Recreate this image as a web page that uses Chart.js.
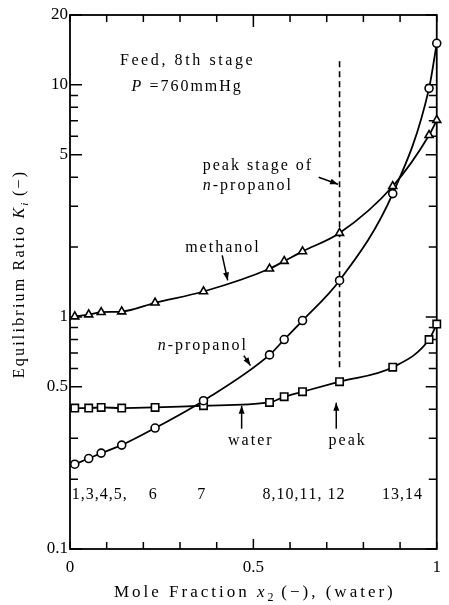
<!DOCTYPE html>
<html><head><meta charset="utf-8">
<script src="https://cdn.jsdelivr.net/npm/chart.js@4.4.0/dist/chart.umd.min.js"></script>
<style>html,body{margin:0;padding:0;background:#fff;}#wrap{width:449px;height:605px;}</style>
</head><body><div id="wrap"><canvas id="c" width="449" height="605"></canvas></div>
<script>
// ---- data ----
const moleFraction = [0.013, 0.051, 0.085, 0.141, 0.232, 0.364, 0.544, 0.584, 0.634, 0.735, 0.880, 0.979, 1.0];
const methanolK    = [1.004, 1.024, 1.048, 1.055, 1.151, 1.287, 1.613, 1.740, 1.916, 2.298, 3.656, 6.07, 7.05];
const propanolK    = [0.232, 0.2454, 0.2589, 0.2804, 0.332, 0.4356, 0.686, 0.799, 0.965, 1.436, 3.40, 9.66, 15.1];
const waterK       = [0.405, 0.405, 0.4074, 0.405, 0.4074, 0.4143, 0.428, 0.453, 0.476, 0.526, 0.607, 0.799, 0.932];
const peakX = 0.735;
const peakK = [0.607, 12.8];
const yTickValues = [0.1,0.2,0.3,0.4,0.5,0.6,0.7,0.8,0.9,1,2,3,4,5,6,7,8,9,10,20];
const yTickLabels = {0.1:'0.1',0.5:'0.5',1:'1',5:'5',10:'10',20:'20'};
const xTickValues = [0,0.1,0.2,0.3,0.4,0.5,0.6,0.7,0.8,0.9,1];
const xTickLabels = {0:'0',0.5:'0.5',1:'1'};
const stageTexts = ['1,3,4,5,', '6', '7', '8,10,11, 12', '13,14'];
const stageX = [0.005, 0.215, 0.347, 0.525, 0.851];
const stageK = 0.171;
const noteTexts = ['Feed, 8th stage', '*P* =760mmHg', 'peak stage of', '*n*-propanol', 'methanol', '*n*-propanol', 'water', 'peak'];
const noteX = [0.136, 0.168, 0.362, 0.362, 0.314, 0.239, 0.431, 0.705];
const noteK = [12.7, 9.78, 4.46, 3.66, 1.99, 0.752, 0.293, 0.293];
const arrowFromX = [0.678, 0.415, 0.474, 0.468, 0.726];
const arrowFromK = [4.0, 1.841, 0.681, 0.33, 0.33];
const arrowToX   = [0.731, 0.430, 0.492, 0.468, 0.726];
const arrowToK   = [3.73, 1.436, 0.617, 0.414, 0.427];
const xTitle = 'Mole Fraction *x*~2~ (−), (water)';
const yTitle = 'Equilibrium Ratio *K*~*i*~ (−)';

// ---- helpers ----
const SERIF = '"Liberation Serif","DejaVu Serif",serif';
const FS = 16;
function parseRich(s){
  const segs=[]; let it=false, sub=false, cur='';
  for(const ch of s){
    if(ch==='*'||ch==='~'){ if(cur){segs.push({t:cur,it,sub});cur='';} if(ch==='*')it=!it; else sub=!sub; }
    else cur+=ch;
  }
  if(cur)segs.push({t:cur,it,sub});
  return segs;
}
function segFont(sg,size){ return (sg.it?'italic ':'')+(sg.sub?Math.round(size*0.7):size)+'px '+SERIF; }
function richWidth(ctx,s,size,sp){
  let w=0; for(const sg of parseRich(s)){ ctx.font=segFont(sg,size); for(const ch of sg.t){ w+=ctx.measureText(ch).width+(sg.sub?0.5:sp); } }
  return w-sp;
}
function drawRich(ctx,s,x,y,size,sp){
  let cx=x;
  for(const sg of parseRich(s)){
    ctx.font=segFont(sg,size);
    const dy = sg.sub? size*0.3 : 0;
    for(const ch of sg.t){ ctx.fillText(ch,cx,y+dy); cx+=ctx.measureText(ch).width+(sg.sub?0.5:sp); }
  }
}
function arrow(ctx,x1,y1,x2,y2){
  ctx.beginPath(); ctx.moveTo(x1,y1); ctx.lineTo(x2,y2); ctx.stroke();
  const a=Math.atan2(y2-y1,x2-x1), L=8, W=3;
  ctx.beginPath();
  ctx.moveTo(x2,y2);
  ctx.lineTo(x2-L*Math.cos(a)+W*Math.sin(a), y2-L*Math.sin(a)-W*Math.cos(a));
  ctx.lineTo(x2-L*Math.cos(a)-W*Math.sin(a), y2-L*Math.sin(a)+W*Math.cos(a));
  ctx.closePath(); ctx.fill();
}

const decor = {
  id:'decor',
  beforeDatasetsDraw(chart){
    const {ctx, chartArea:a, scales:{x,y}} = chart;
    ctx.save();
    ctx.strokeStyle='#000'; ctx.lineWidth=1.8;
    ctx.strokeRect(a.left,a.top,a.right-a.left,a.bottom-a.top);
    ctx.lineWidth=1.5;
    ctx.beginPath();
    yTickValues.forEach(v=>{
      const py=y.getPixelForValue(v);
      const major = v in yTickLabels;
      ctx.moveTo(a.left,py); ctx.lineTo(a.left+(major?12:8),py);
      ctx.moveTo(a.right,py); ctx.lineTo(a.right-(major?11:8),py);
    });
    xTickValues.forEach(v=>{
      const px=x.getPixelForValue(v);
      const major = v===0.5;
      ctx.moveTo(px,a.top); ctx.lineTo(px,a.top+(major?12:7));
      ctx.moveTo(px,a.bottom); ctx.lineTo(px,a.bottom-(major?10:7));
    });
    ctx.stroke();
    ctx.restore();
  },
  afterDraw(chart){
    const {ctx, chartArea:a, scales:{x,y}} = chart;
    ctx.save();
    ctx.fillStyle='#000'; ctx.strokeStyle='#000'; ctx.lineWidth=1.5;
    ctx.textBaseline='middle'; ctx.textAlign='left';
    noteTexts.forEach((t,i)=>drawRich(ctx,t,x.getPixelForValue(noteX[i]),y.getPixelForValue(noteK[i]),FS,i===0?2.6:2));
    stageTexts.forEach((t,i)=>drawRich(ctx,t,x.getPixelForValue(stageX[i]),y.getPixelForValue(stageK),FS,1));
    arrowFromX.forEach((v,i)=>arrow(ctx,x.getPixelForValue(v),y.getPixelForValue(arrowFromK[i]),x.getPixelForValue(arrowToX[i]),y.getPixelForValue(arrowToK[i])));
    // x title
    const xw=richWidth(ctx,xTitle,17,3.0);
    drawRich(ctx,xTitle,(a.left+a.right)/2-xw/2,593,17,3.0);
    // y title
    ctx.translate(20,275); ctx.rotate(-Math.PI/2);
    const yw=richWidth(ctx,yTitle,FS,2.2);
    drawRich(ctx,yTitle,-yw/2,0,FS,2.2);
    ctx.restore();
  }
};

const pts = arr => moleFraction.map((v,i)=>({x:v,y:arr[i]}));
const common = {borderColor:'#000', backgroundColor:'#fff', borderWidth:1.8, pointBorderWidth:1.6,
  pointBackgroundColor:'#fff', pointBorderColor:'#000', cubicInterpolationMode:'monotone', clip:false, fill:false};

new Chart(document.getElementById('c'), {
  type:'line',
  data:{datasets:[
    Object.assign({label:'methanol', data:pts(methanolK), pointStyle:'triangle', pointRadius:4.6}, common),
    Object.assign({label:'n-propanol', data:pts(propanolK), pointStyle:'circle', pointRadius:4}, common),
    Object.assign({label:'water', data:pts(waterK), pointStyle:'rect', pointRadius:5.2}, common),
    {label:'peak', data:[{x:peakX,y:peakK[0]},{x:peakX,y:peakK[1]}], borderColor:'#000', borderWidth:1.6,
     borderDash:[6,4], pointRadius:0, fill:false}
  ]},
  options:{
    responsive:false, animation:false, events:[],
    layout:{padding:{top:15,right:3,left:0,bottom:0}},
    plugins:{legend:{display:false}, tooltip:{enabled:false}},
    scales:{
      x:{type:'linear', min:0, max:1,
        afterBuildTicks:s=>{s.ticks=xTickValues.map(v=>({value:v}));},
        afterFit:s=>{s.height=56;},
        grid:{display:false, drawTicks:false}, border:{display:false},
        ticks:{autoSkip:false, maxRotation:0, color:'#000', padding:8, font:{family:SERIF,size:17},
          callback:v=>xTickLabels[v]!==undefined?xTickLabels[v]:''}},
      y:{type:'logarithmic', min:0.1, max:20,
        afterBuildTicks:s=>{s.ticks=yTickValues.map(v=>({value:v}));},
        afterFit:s=>{s.width=70;},
        grid:{display:false, drawTicks:false}, border:{display:false},
        ticks:{autoSkip:false, color:'#000', padding:2, font:{family:SERIF,size:17},
          callback:v=>yTickLabels[v]!==undefined?yTickLabels[v]:''}}
    }
  },
  plugins:[decor]
});
</script></body></html>
